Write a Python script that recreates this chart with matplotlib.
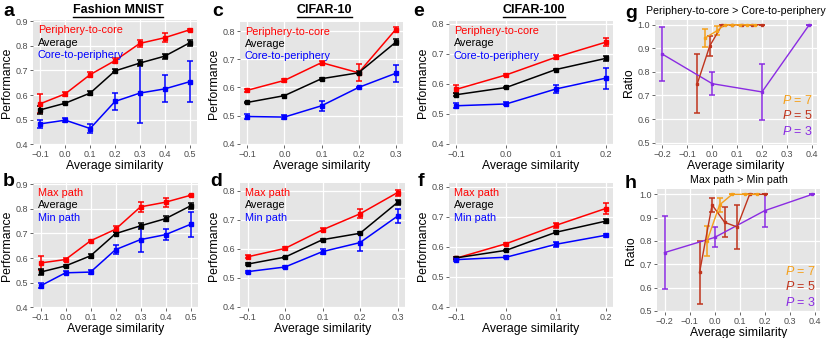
import matplotlib
matplotlib.use("Agg")
from matplotlib import pyplot as plt
from matplotlib.lines import Line2D

plt.rcParams['font.family'] = ['Liberation Sans', 'DejaVu Sans']
plt.rcParams['mathtext.fontset'] = 'custom'
plt.rcParams['mathtext.it'] = 'Liberation Sans:italic'
plt.rcParams['mathtext.rm'] = 'Liberation Sans'

# ---- data ----
# Fashion MNIST (a, b)
x_fm = [-0.1, 0.0, 0.1, 0.2, 0.3, 0.4, 0.5]
fm_p2c = [0.565, 0.605, 0.683, 0.740, 0.810, 0.833, 0.865]
fm_p2c_err = [0.038, 0.007, 0.010, 0.010, 0.015, 0.018, 0.005]
fm_avg = [0.540, 0.567, 0.608, 0.698, 0.730, 0.758, 0.812]
fm_avg_err = [0.015, 0.004, 0.007, 0.006, 0.013, 0.010, 0.012]
fm_c2p = [0.483, 0.498, 0.464, 0.574, 0.608, 0.625, 0.654]
fm_c2p_err = [0.016, 0.008, 0.020, 0.035, 0.120, 0.055, 0.083]
fm_max = [0.580, 0.594, 0.670, 0.717, 0.808, 0.827, 0.855]
fm_max_err = [0.030, 0.005, 0.005, 0.012, 0.020, 0.018, 0.003]
fm_avg2 = [0.543, 0.568, 0.609, 0.699, 0.731, 0.760, 0.812]
fm_avg2_err = [0.012, 0.004, 0.007, 0.005, 0.013, 0.010, 0.012]
fm_min = [0.487, 0.540, 0.543, 0.634, 0.675, 0.695, 0.737]
fm_min_err = [0.010, 0.006, 0.008, 0.018, 0.050, 0.023, 0.050]

# CIFAR-10 (c, d)
x_c10 = [-0.1, 0.0, 0.1, 0.2, 0.3]
c10_p2c = [0.590, 0.625, 0.688, 0.652, 0.805]
c10_p2c_err = [0.006, 0.004, 0.006, 0.030, 0.010]
c10_avg = [0.547, 0.571, 0.631, 0.652, 0.760]
c10_avg_err = [0.003, 0.003, 0.003, 0.005, 0.010]
c10_c2p = [0.497, 0.495, 0.535, 0.600, 0.650]
c10_c2p_err = [0.010, 0.006, 0.018, 0.003, 0.030]
c10_max = [0.572, 0.601, 0.665, 0.720, 0.793]
c10_max_err = [0.005, 0.004, 0.005, 0.016, 0.010]
c10_avg2 = [0.547, 0.571, 0.631, 0.653, 0.759]
c10_avg2_err = [0.003, 0.002, 0.004, 0.003, 0.008]
c10_min = [0.521, 0.537, 0.590, 0.621, 0.712]
c10_min_err = [0.003, 0.003, 0.008, 0.028, 0.025]

# CIFAR-100 (e, f)
x_c100 = [-0.1, 0.0, 0.1, 0.2]
c100_p2c = [0.582, 0.630, 0.689, 0.739]
c100_p2c_err = [0.013, 0.004, 0.007, 0.013]
c100_avg = [0.564, 0.588, 0.648, 0.685]
c100_avg_err = [0.006, 0.003, 0.003, 0.007]
c100_c2p = [0.527, 0.533, 0.583, 0.619]
c100_c2p_err = [0.008, 0.005, 0.012, 0.035]
c100_max = [0.562, 0.610, 0.671, 0.727]
c100_max_err = [0.004, 0.003, 0.008, 0.017]
c100_avg2 = [0.563, 0.588, 0.648, 0.685]
c100_avg2_err = [0.004, 0.002, 0.003, 0.007]
c100_min = [0.557, 0.565, 0.608, 0.638]
c100_min_err = [0.005, 0.003, 0.008, 0.005]

# ratio panels (g, h)
g_x3 = [-0.2, 0.0, 0.2, 0.39]
g_y3 = [0.875, 0.750, 0.715, 1.0]
g_e3 = [0.115, 0.050, 0.120, 0.0]
g_x5 = [-0.06, -0.01, 0.04, 0.08, 0.12, 0.16, 0.20]
g_y5 = [0.750, 0.910, 1.0, 1.0, 1.0, 1.0, 1.0]
g_e5 = [0.125, 0.042, 0.0, 0.0, 0.0, 0.0, 0.0]
g_x7 = [-0.03, 0.02, 0.05, 0.08, 0.11, 0.14, 0.17]
g_y7 = [0.943, 0.975, 1.0, 1.0, 1.0, 1.0, 1.0]
g_e7 = [0.038, 0.020, 0.0, 0.0, 0.0, 0.0, 0.0]

h_x3 = [-0.2, 0.0, 0.2, 0.39]
h_y3 = [0.750, 0.815, 0.930, 1.0]
h_e3 = [0.155, 0.043, 0.070, 0.0]
h_x5 = [-0.06, -0.01, 0.04, 0.09, 0.14, 0.20]
h_y5 = [0.665, 0.955, 0.880, 0.860, 1.0, 1.0]
h_e5 = [0.135, 0.030, 0.065, 0.093, 0.0, 0.0]
h_x7 = [-0.03, 0.02, 0.07, 0.12, 0.17]
h_y7 = [0.800, 0.955, 1.0, 1.0, 1.0]
h_e7 = [0.065, 0.030, 0.0, 0.0, 0.0]

RED, BLACK, BLUE = '#FF0000', '#000000', '#0000FF'
C7, C5, C3 = '#F5A01A', '#C0341D', '#8A2BE2'
W, H = 831, 338

fig = plt.figure(figsize=(W / 100, H / 100), dpi=100)


def make_ax(x0, y0, x1, y1):
    ax = fig.add_axes([x0 / W, 1 - y1 / H, (x1 - x0) / W, (y1 - y0) / H])
    ax.set_facecolor('#E5E5E5')
    for s in ax.spines.values():
        s.set_visible(False)
    ax.grid(True, color='white', linewidth=0.9)
    ax.set_axisbelow(True)
    ax.tick_params(labelsize=6.5, colors='#4D4D4D', length=2, width=0.6, pad=1.5)
    ax.set_xlabel('Average similarity', fontsize=8.8, labelpad=1)
    return ax


def perf_panel(ax, x, series, labels, ylim, yticks):
    for (y, e), c in zip(series, [RED, BLACK, BLUE]):
        ax.errorbar(x, y, yerr=e, color=c, lw=1.1, elinewidth=1.1, capsize=2.2,
                    capthick=1.1, marker='s', ms=2.2)
    for i, (lab, c) in enumerate(zip(labels, [RED, BLACK, BLUE])):
        ax.text(0.03, 0.92 - i * 0.1, lab, color=c, fontsize=7.8,
                transform=ax.transAxes, va='center')
    ax.set_ylim(*ylim)
    ax.set_yticks(yticks)
    ax.set_xticks(x)
    ax.set_xticklabels(['\u22120.1' if v < 0 else f'{v:.1f}' for v in x])
    ax.set_ylabel('Performance', fontsize=8.8, labelpad=2)


def ratio_panel(ax, data, ylim, title, ly):
    for x, y, e, c in data:
        ax.errorbar(x, y, yerr=e, color=c, lw=1, elinewidth=1.1, capsize=2.2,
                    capthick=1.1, marker='s', ms=1.7)
    for i, (lab, c) in enumerate(zip(['$P$ = 7', '$P$ = 5', '$P$ = 3'], [C7, C5, C3])):
        ax.text(0.975, ly - i * 0.125, lab, color=c, fontsize=9,
                transform=ax.transAxes, va='center', ha='right')
    ax.set_ylim(*ylim)
    ax.set_yticks([0.5, 0.6, 0.7, 0.8, 0.9, 1.0])
    ax.set_xlim(-0.23, 0.421)
    ticks = [-0.2, -0.1, 0.0, 0.1, 0.2, 0.3, 0.4]
    ax.set_xticks(ticks)
    ax.set_xticklabels([f'\u2212{abs(v):.1f}' if v < 0 else f'{v:.1f}' for v in ticks])
    ax.set_ylabel('Ratio', fontsize=8.8, labelpad=2)
    ax.set_title(title, fontsize=7.7, pad=4)


ax_a = make_ax(33, 20, 197, 145)
perf_panel(ax_a, x_fm, [(fm_p2c, fm_p2c_err), (fm_avg, fm_avg_err), (fm_c2p, fm_c2p_err)],
           ['Periphery-to-core', 'Average', 'Core-to-periphery'], (0.397, 0.905),
           [0.4, 0.5, 0.6, 0.7, 0.8, 0.9])
ax_b = make_ax(33, 183, 198, 308)
perf_panel(ax_b, x_fm, [(fm_max, fm_max_err), (fm_avg2, fm_avg2_err), (fm_min, fm_min_err)],
           ['Max path', 'Average', 'Min path'], (0.397, 0.905),
           [0.4, 0.5, 0.6, 0.7, 0.8, 0.9])
ax_c = make_ax(240, 22, 403, 145)
perf_panel(ax_c, x_c10, [(c10_p2c, c10_p2c_err), (c10_avg, c10_avg_err), (c10_c2p, c10_c2p_err)],
           ['Periphery-to-core', 'Average', 'Core-to-periphery'], (0.396, 0.832),
           [0.4, 0.5, 0.6, 0.7, 0.8])
ax_d = make_ax(240, 183, 405, 308)
perf_panel(ax_d, x_c10, [(c10_max, c10_max_err), (c10_avg2, c10_avg2_err), (c10_min, c10_min_err)],
           ['Max path', 'Average', 'Min path'], (0.396, 0.826),
           [0.4, 0.5, 0.6, 0.7, 0.8])
ax_e = make_ax(449, 21, 613, 145)
perf_panel(ax_e, x_c100, [(c100_p2c, c100_p2c_err), (c100_avg, c100_avg_err), (c100_c2p, c100_c2p_err)],
           ['Periphery-to-core', 'Average', 'Core-to-periphery'], (0.396, 0.81),
           [0.4, 0.5, 0.6, 0.7, 0.8])
ax_f = make_ax(449, 183, 613, 308)
perf_panel(ax_f, x_c100, [(c100_max, c100_max_err), (c100_avg2, c100_avg2_err), (c100_min, c100_min_err)],
           ['Max path', 'Average', 'Min path'], (0.396, 0.812),
           [0.4, 0.5, 0.6, 0.7, 0.8])
ax_g = make_ax(655, 20, 817, 145)
ratio_panel(ax_g, [(g_x3, g_y3, g_e3, C3), (g_x5, g_y5, g_e5, C5), (g_x7, g_y7, g_e7, C7)],
            (0.49, 1.02), 'Periphery-to-core > Core-to-periphery', 0.36)
ax_h = make_ax(657, 189, 820, 312)
ratio_panel(ax_h, [(h_x3, h_y3, h_e3, C3), (h_x5, h_y5, h_e5, C5), (h_x7, h_y7, h_e7, C7)],
            (0.495, 1.023), 'Max path > Min path', 0.33)

# dataset titles, underlined
titles = [(ax_a, 'Fashion MNIST'), (ax_c, 'CIFAR-10'), (ax_e, 'CIFAR-100')]
title_texts = []
for ax, t in titles:
    pos = ax.get_position()
    tt = fig.text((pos.x0 + pos.x1) / 2 + 3 / W, 1 - 10 / H, t, fontsize=9,
                  fontweight='bold', ha='center', va='center')
    title_texts.append(tt)

# panel letters
for lab, px, py in [('a', 3, 12), ('c', 212, 12), ('e', 413, 12), ('g', 625, 13),
                    ('b', 3, 181), ('d', 210, 181), ('f', 418, 181), ('h', 625, 184)]:
    fig.text(px / W, 1 - py / H, lab, fontsize=14, fontweight='bold', va='center')

fig.canvas.draw()
r = fig.canvas.get_renderer()
for tt in title_texts:
    bb = tt.get_window_extent(r).transformed(fig.transFigure.inverted())
    fig.add_artist(Line2D([bb.x0, bb.x1], [bb.y0 - 0.004, bb.y0 - 0.004],
                          color='black', lw=1, transform=fig.transFigure))

fig.savefig('out.png', dpi=100)
